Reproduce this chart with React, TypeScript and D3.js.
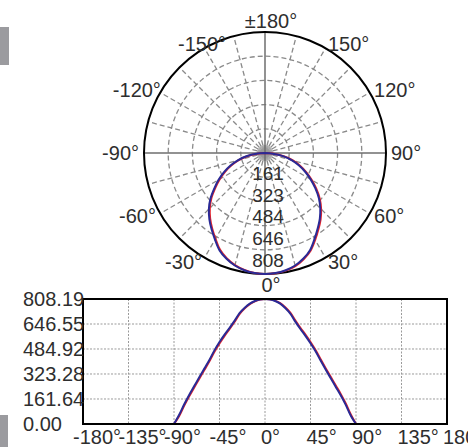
import React from "react";
import * as d3 from "d3";

const angles = [-90, -85, -80, -75, -70, -65, -60, -55, -50, -45, -40, -35, -30, -25, -20, -15, -10, -5, 0,
  5, 10, 15, 20, 25, 30, 35, 40, 45, 50, 55, 60, 65, 70, 75, 80, 85, 90];
const blueValues = [0, 58, 126, 188, 245, 302, 358, 414, 476, 530, 578, 622, 668, 718, 752, 778, 795, 805, 808,
  805, 795, 778, 750, 714, 662, 614, 570, 522, 470, 410, 352, 296, 240, 184, 122, 52, 0];
const redValues = [0, 50, 117, 179, 236, 293, 349, 405, 467, 521, 570, 615, 661, 712, 748, 775, 793, 804, 808,
  806, 798, 782, 755, 720, 670, 622, 578, 530, 478, 419, 361, 305, 249, 193, 131, 60, 0];

const maxValue = 808.19;
const polarRingLabels = ["161", "323", "484", "646", "808"];
const polarRingValues = [161.64, 323.28, 484.92, 646.55, 808.19];
const polarAngleLabels = [180, -150, -120, -90, -60, -30, 0, 30, 60, 90, 120, 150];
const yTickValues = [0, 161.64, 323.28, 484.92, 646.55, 808.19];
const yTickLabels = ["0.00", "161.64", "323.28", "484.92", "646.55", "808.19"];
const xTickValues = [-180, -135, -90, -45, 0, 45, 90, 135, 180];

const FONT = "'Liberation Sans', Arial, Helvetica, sans-serif";
const TEXT = "#2e2e2e";
const RED = "#e3232b";
const BLUE = "#2a2a96";

export default function App() {
  const W = 468, H = 447;
  // polar
  const cx = 265, cy = 153, R = 121;
  const rScale = d3.scaleLinear().domain([0, maxValue]).range([0, R]);
  const rad = (d: number) => (d * Math.PI) / 180;
  const polarLine = d3
    .lineRadial<number>()
    .angle((_, i) => Math.PI - rad(angles[i]))
    .radius((v) => rScale(v))
    .curve(d3.curveCatmullRom);

  const radialAngles = d3.range(-165, 181, 15).filter((a) => a % 90 !== 0);
  const hubAngles = d3.range(0, 360, 5);

  // cartesian
  const x0 = 83, x1 = 447, y0 = 299, y1 = 424;
  const xScale = d3.scaleLinear().domain([-180, 180]).range([x0, x1]);
  const yScale = d3.scaleLinear().domain([0, maxValue]).range([y1, y0]);
  const line = d3
    .line<number>()
    .x((_, i) => xScale(angles[i]))
    .y((v) => yScale(v))
    .curve(d3.curveCatmullRom);

  return (
    <div style={{ position: "fixed", left: 0, top: 0, width: W, height: H, background: "#fff" }}>
      <svg width={W} height={H} style={{ display: "block" }} fontFamily={FONT}>
        <rect x={0} y={27} width={9} height={38} fill="#9b9b9f" />
        <rect x={0} y={415} width={8} height={32} fill="#9b9b9f" />

        {/* polar grid */}
        <g>
          {polarRingValues.slice(0, 4).map((v, i) => (
            <circle key={i} cx={cx} cy={cy} r={rScale(v)} fill="none" stroke="#8a8a8a" strokeWidth={1.3} strokeDasharray="5,3" />
          ))}
          {radialAngles.map((a) => (
            <line
              key={a}
              x1={cx}
              y1={cy}
              x2={cx + R * Math.sin(rad(a))}
              y2={cy + R * Math.cos(rad(a))}
              stroke="#8a8a8a"
              strokeWidth={1.3}
              strokeDasharray="5,3"
            />
          ))}
          {hubAngles.map((a) => (
            <line
              key={"h" + a}
              x1={cx}
              y1={cy}
              x2={cx + 8 * Math.sin(rad(a))}
              y2={cy + 8 * Math.cos(rad(a))}
              stroke="#9a9a9a"
              strokeWidth={0.8}
            />
          ))}
          <line x1={cx - R} y1={cy} x2={cx + R} y2={cy} stroke="#6e6e6e" strokeWidth={1.5} />
          <line x1={cx} y1={cy - R} x2={cx} y2={cy + R} stroke="#6e6e6e" strokeWidth={1.5} />
          <circle cx={cx} cy={cy} r={R} fill="none" stroke="#000" strokeWidth={2} />
        </g>
        <g transform={`translate(${cx},${cy})`}>
          <path d={polarLine(redValues) || ""} fill="none" stroke={RED} strokeWidth={2} />
          <path d={polarLine(blueValues) || ""} fill="none" stroke={BLUE} strokeWidth={2} />
        </g>
        {polarRingLabels.map((t, i) => (
          <text key={t} x={cx + 3} y={cy + rScale(polarRingValues[i]) * 0.9 + 5} textAnchor="middle" fontSize={19} fill={TEXT}>
            {t}
          </text>
        ))}
        {polarAngleLabels.map((a) => {
          const s = Math.sin(rad(a));
          const c = Math.cos(rad(a));
          const r = R + 5;
          let anchor = "middle";
          if (s > 0.1) anchor = "start";
          else if (s < -0.1) anchor = c < -0.7 ? "middle" : "end";
          const px = cx + r * s + (Math.abs(s) < 0.1 ? 6 : 0) + (s < -0.8 && c < 0 ? 5 : 0);
          const py = cy + r * c + 7 + (Math.abs(s) < 0.1 ? 6 * c : 0);
          const label = a === 180 ? "\u00b1180\u00b0" : `${a}\u00b0`;
          return (
            <text key={a} x={px} y={py} textAnchor={anchor} fontSize={20} fill={TEXT}>
              {label}
            </text>
          );
        })}

        {/* cartesian */}
        <g>
          {yTickValues.slice(1, 5).map((v) => (
            <line key={v} x1={x0} x2={x1} y1={yScale(v)} y2={yScale(v)} stroke="#9a9a9a" strokeWidth={1} strokeDasharray="2,1.5" />
          ))}
          {xTickValues.slice(1, 8).map((v) => (
            <line key={v} x1={xScale(v)} x2={xScale(v)} y1={y0} y2={y1} stroke="#9a9a9a" strokeWidth={1} strokeDasharray="2,1.5" />
          ))}
          <path d={line(redValues) || ""} fill="none" stroke={RED} strokeWidth={2} />
          <path d={line(blueValues) || ""} fill="none" stroke={BLUE} strokeWidth={2} />
          <rect x={x0} y={y0} width={x1 - x0} height={y1 - y0} fill="none" stroke="#000" strokeWidth={2} />
          {yTickValues.map((v, i) => (
            <text key={v} x={23} y={yScale(v) + 7} fontSize={20} fill={TEXT}>
              {yTickLabels[i]}
            </text>
          ))}
          {xTickValues.map((v) => (
            <text key={v} x={xScale(v) - 4 - (v < 0 ? 6 : 0)} y={444} fontSize={20} fill={TEXT}>
              {`${v}\u00b0`}
            </text>
          ))}
        </g>
      </svg>
    </div>
  );
}
